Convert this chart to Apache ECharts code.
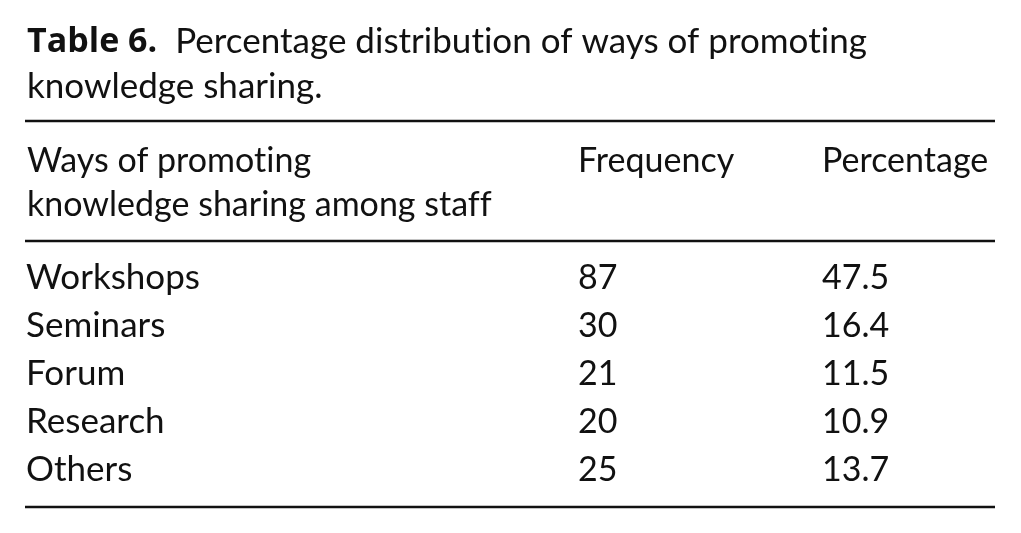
<!DOCTYPE html>
<html><head><meta charset="utf-8">
<script src="https://cdn.jsdelivr.net/npm/echarts@6/dist/echarts.min.js"></script>
<style>html,body{margin:0;padding:0;background:#fff}#c{width:1021px;height:533px}</style>
</head><body><div id="c"></div>
<script>
var tableNumber = 'Table 6.';
var captionLine1 = 'Percentage distribution of ways of promoting';
var captionLine2 = 'knowledge sharing.';
var headerWays = ['Ways of promoting', 'knowledge sharing among staff'];
var headerFrequency = 'Frequency';
var headerPercentage = 'Percentage';
var ways = ['Workshops', 'Seminars', 'Forum', 'Research', 'Others'];
var frequency = [87, 30, 21, 20, 25];
var percentage = ['47.5', '16.4', '11.5', '10.9', '13.7'];

// keep glyphs un-ligated (no "ti"/"ff" ligatures), as in the reference typeface
(function () {
  var P = CanvasRenderingContext2D.prototype, orig = P.fillText, om = P.measureText;
  P.fillText = function () {
    if ('letterSpacing' in this) this.letterSpacing = '0.01px';
    return orig.apply(this, arguments);
  };
  P.measureText = function () {
    if ('letterSpacing' in this) this.letterSpacing = '0.01px';
    return om.apply(this, arguments);
  };
})();

var FONT = 'Lato, "Open Sans", sans-serif';
var BOLDFONT = '"Open Sans", Lato, sans-serif';
var INK = '#111111';
var FS = 34;
var CAP = 35;

var chart = echarts.init(document.getElementById('c'), null, {renderer: 'canvas'});

var columns = [
  {left: 26, values: ways},
  {left: 578, values: frequency},
  {left: 822, values: percentage}
];

var grids = [], xAxes = [], yAxes = [], series = [];
columns.forEach(function (col, k) {
  grids.push({left: col.left, width: 150, top: 254, height: 240, containLabel: false});
  xAxes.push({type: 'value', gridIndex: k, min: 0, max: 1, show: false});
  yAxes.push({type: 'category', gridIndex: k, data: ways, inverse: true, show: false});
  series.push({
    type: 'scatter', xAxisIndex: k, yAxisIndex: k, symbolSize: 0, silent: true,
    itemStyle: {opacity: 1},
    data: col.values.map(function (v, i) { return [0, i]; }),
    label: {
      show: true, position: 'right', distance: 0, opacity: 1,
      fontFamily: FONT, fontSize: (k === 0 ? 35 : FS), color: INK,
      formatter: function (p) { return String(col.values[p.dataIndex]); }
    }
  });
});

function txt(text, x, y, size) {
  return {type: 'text', silent: true,
    style: {text: text, x: x, y: y, font: (size || FS) + 'px ' + FONT, fill: INK, textVerticalAlign: 'middle'}};
}
function rule(y) {
  return {type: 'line', shape: {x1: 25, y1: y, x2: 995, y2: y}, style: {stroke: INK, lineWidth: 2.5}, silent: true};
}

chart.setOption({
  animation: false,
  grid: grids, xAxis: xAxes, yAxis: yAxes, series: series,
  graphic: [
    {type: 'text', silent: true, style: {
      text: '{b|' + tableNumber + '}  ' + captionLine1, x: 27, y: 42,
      font: CAP + 'px ' + FONT, fill: INK, textVerticalAlign: 'middle',
      rich: {b: {fontWeight: 'bold', fontFamily: BOLDFONT, fontSize: 34, color: INK}}
    }},
    txt(captionLine2, 27, 87, CAP),
    rule(121),
    txt(headerWays[0], 27, 161),
    txt(headerWays[1], 27, 205),
    txt(headerFrequency, 578, 161),
    txt(headerPercentage, 822, 161),
    rule(241),
    rule(507)
  ]
});
</script></body></html>
